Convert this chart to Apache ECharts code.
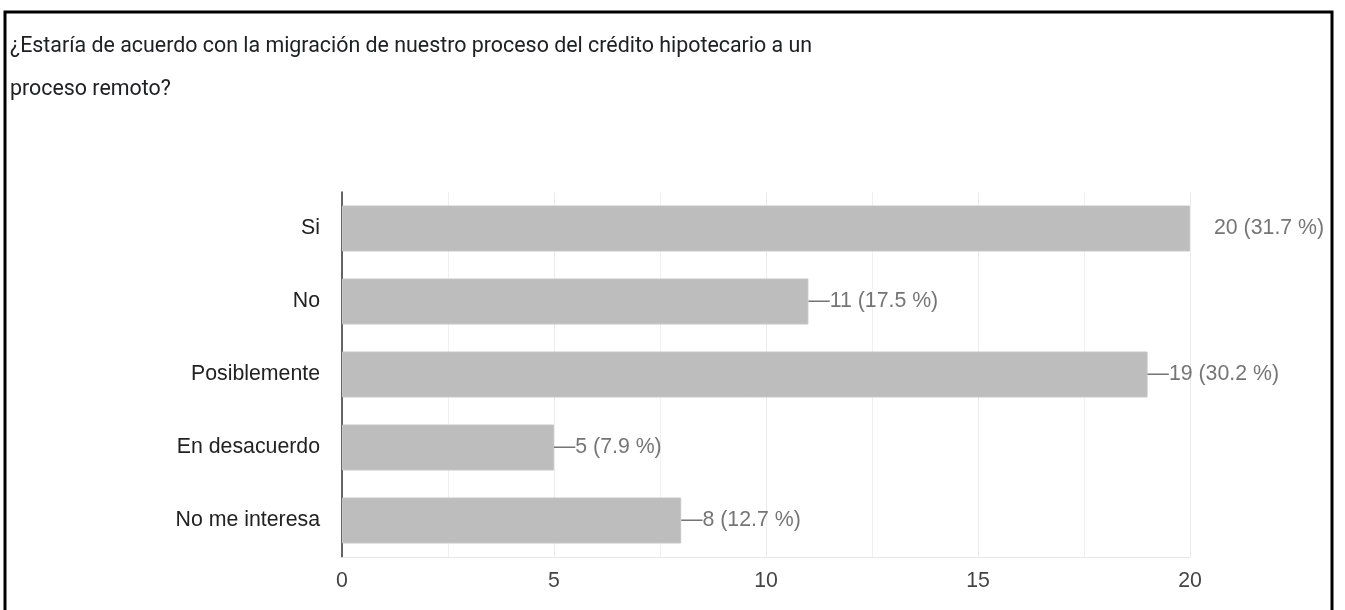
<!DOCTYPE html>
<html><head><meta charset="utf-8">
<script src="https://cdn.jsdelivr.net/npm/echarts@6/dist/echarts.min.js"></script>
<style>html,body{margin:0;padding:0;background:#fff}#c{width:1345px;height:610px}</style>
</head><body><div id="c"></div>
<script>
const categories = ['Si', 'No', 'Posiblemente', 'En desacuerdo', 'No me interesa'];
const counts = [20, 11, 19, 5, 8];
const percents = ['31.7', '17.5', '30.2', '7.9', '12.7'];
const xTicks = [0, 5, 10, 15, 20];
const titleText = '¿Estaría de acuerdo con la migración de nuestro proceso del crédito hipotecario a un\nproceso remoto?';

const FS = 21.3;
const chart = echarts.init(document.getElementById('c'), null, {renderer: 'canvas'});
const data = counts.map((v, i) => {
  const item = {value: v};
  if (v >= xTicks[xTicks.length - 1]) {
    item.label = {distance: 24, formatter: p => p.value + ' (' + percents[p.dataIndex] + ' %)'};
  }
  return item;
});
chart.setOption({
  animation: false,
  title: {
    text: titleText, left: 5, top: 20,
    textStyle: {fontFamily: 'Roboto', fontSize: 21.4, fontWeight: 'normal', color: '#202124', lineHeight: 43}
  },
  grid: {left: 342, right: 155, top: 192, bottom: 53},
  xAxis: {
    type: 'value', min: xTicks[0], max: xTicks[xTicks.length - 1], interval: 5,
    axisLine: {show: true, lineStyle: {color: '#e6e6e6'}},
    axisTick: {show: false},
    axisLabel: {fontFamily: 'Liberation Sans', fontSize: FS, color: '#444', margin: 14},
    splitLine: {show: true, lineStyle: {color: '#ebebeb'}},
    minorTick: {show: false, splitNumber: 2},
    minorSplitLine: {show: true, lineStyle: {color: '#f0f0f0'}}
  },
  yAxis: {
    type: 'category', data: categories, inverse: true,
    axisLine: {show: true, lineStyle: {color: '#333', width: 1.5}},
    axisTick: {show: false},
    axisLabel: {fontFamily: 'Liberation Sans', fontSize: FS, color: '#222', margin: 22}
  },
  series: [{
    type: 'bar', data: data, barCategoryGap: '37%',
    itemStyle: {color: '#bdbdbd', borderColor: '#c6c6c6', borderWidth: 1},
    label: {
      show: true, position: 'right', distance: 0,
      fontFamily: 'Liberation Sans', fontSize: FS, color: '#757575',
      formatter: p => '—' + p.value + ' (' + percents[p.dataIndex] + ' %)'
    }
  }],
  graphic: [{
    type: 'polyline', silent: true,
    shape: {points: [[5, 640], [5, 12], [1332, 12], [1332, 640]]},
    style: {stroke: '#000', lineWidth: 3, fill: null}
  }]
});
</script></body></html>
